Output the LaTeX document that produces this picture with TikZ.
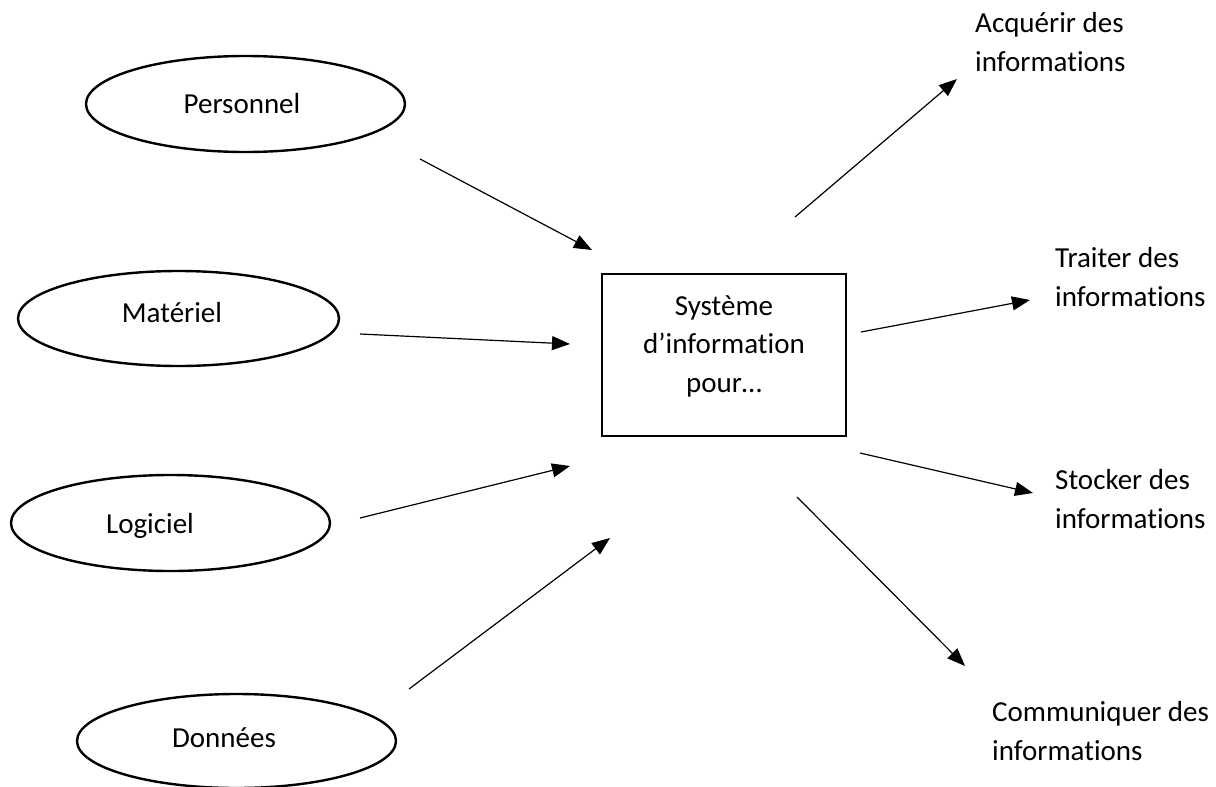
\documentclass[tikz,border=0pt]{standalone}
\usepackage{fontspec}
\setmainfont{Carlito}[Ligatures=NoCommon]
\usetikzlibrary{shapes.geometric,arrows.meta}
\tikzset{
  oval/.style={draw, line width=2.4pt, ellipse, inner sep=0pt},
  sysbox/.style={draw, line width=1.2pt, rectangle, inner sep=0pt, minimum width=244pt, minimum height=162pt},
  lab/.style={inner sep=0pt, font=\fontsize{29}{38.5}\selectfont},
  conn/.style={line width=1.2pt, -{Triangle[length=18pt,width=14pt]}}
}
\begin{document}
\begin{tikzpicture}[x=1pt,y=-1pt]
\useasboundingbox (0,0) rectangle (1216,787);
% input ellipses
\node[oval, minimum width=319pt, minimum height=96pt] (pers) at (245.5,104) {};
\node[lab, anchor=base] (pers-t) at (242,113) {Personnel};
\node[oval, minimum width=321pt, minimum height=95pt] (mat) at (178.5,318.5) {};
\node[lab, anchor=base] (mat-t) at (172,322) {Matériel};
\node[oval, minimum width=319pt, minimum height=96pt] (log) at (170.5,523) {};
\node[lab, anchor=base] (log-t) at (150,533) {Logiciel};
\node[oval, minimum width=319pt, minimum height=94pt] (don) at (236.5,741) {};
\node[lab, anchor=base] (don-t) at (224,747) {Données};
% central box
\node[sysbox] (sys) at (724,355) {};
\node[lab, align=center, anchor=base] (sys-t) at (724,392) {Système\\d’information\\pour…};
% output labels (anchor = baseline of last line)
\node[lab, align=left, anchor=base west] (acq) at (975,71) {Acquérir des\\informations};
\node[lab, align=left, anchor=base west] (tra) at (1055,306) {Traiter des\\informations};
\node[lab, align=left, anchor=base west] (sto) at (1055,528) {Stocker des\\informations};
\node[lab, align=left, anchor=base west] (com) at (992,760) {Communiquer des\\informations};
% arrow end points
\coordinate (p1) at (420,159); \coordinate (p2) at (592,250);
\coordinate (m1) at (360,334); \coordinate (m2) at (570,344);
\coordinate (l1) at (360,518); \coordinate (l2) at (570,466);
\coordinate (d1) at (409,689); \coordinate (d2) at (610,538);
\coordinate (a1) at (795,217); \coordinate (a2) at (957,79);
\coordinate (t1) at (861,332); \coordinate (t2) at (1030,300);
\coordinate (s1) at (860,453); \coordinate (s2) at (1033,493);
\coordinate (c1) at (797,497); \coordinate (c2) at (965,666);
\draw[conn] (p1) -- (p2);
\draw[conn] (m1) -- (m2);
\draw[conn] (l1) -- (l2);
\draw[conn] (d1) -- (d2);
\draw[conn] (a1) -- (a2);
\draw[conn] (t1) -- (t2);
\draw[conn] (s1) -- (s2);
\draw[conn] (c1) -- (c2);
\end{tikzpicture}
\end{document}
